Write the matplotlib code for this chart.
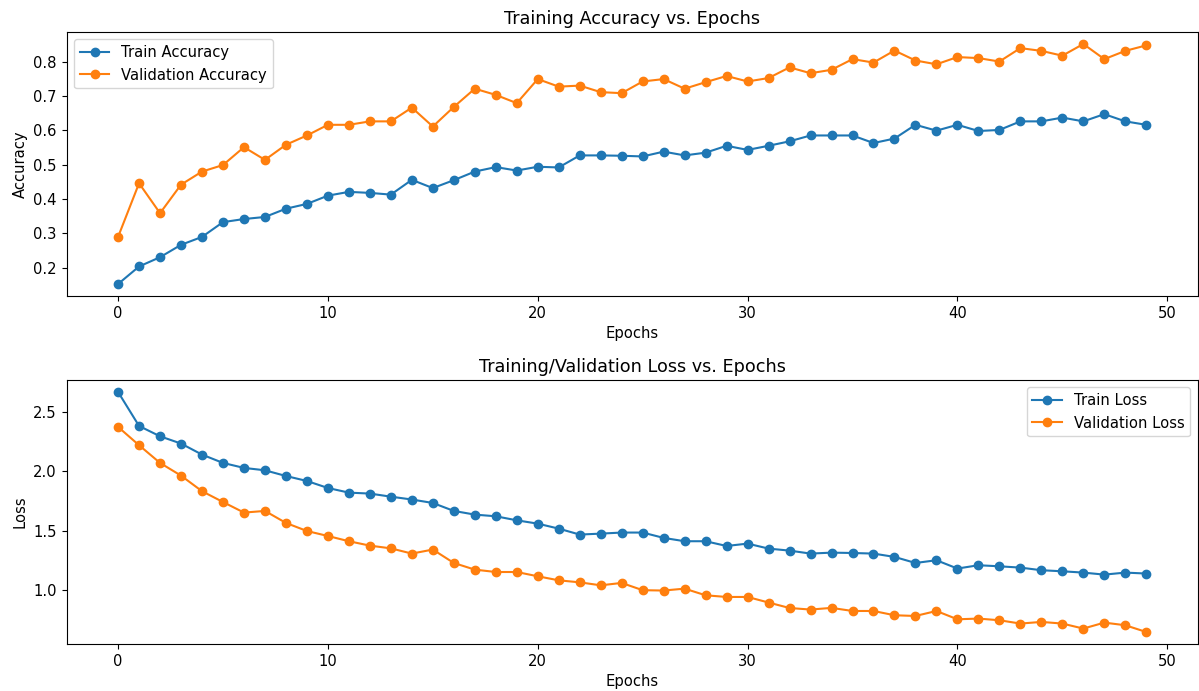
import matplotlib
matplotlib.use("Agg")
import matplotlib.pyplot as plt
from matplotlib.ticker import MultipleLocator

plt.rcParams['font.size'] = 10.6
plt.rcParams['axes.titlesize'] = 12.7

epochs = list(range(50))

train_acc = [0.153, 0.204, 0.231, 0.267, 0.290, 0.333, 0.342, 0.348, 0.372, 0.386,
             0.410, 0.421, 0.418, 0.413, 0.456, 0.432, 0.455, 0.480, 0.493, 0.483,
             0.494, 0.492, 0.527, 0.527, 0.526, 0.524, 0.538, 0.527, 0.535, 0.555,
             0.543, 0.555, 0.568, 0.585, 0.585, 0.585, 0.563, 0.576, 0.616, 0.599,
             0.616, 0.598, 0.601, 0.626, 0.626, 0.637, 0.626, 0.647, 0.626, 0.616]

val_acc = [0.290, 0.446, 0.359, 0.442, 0.480, 0.499, 0.551, 0.514, 0.558, 0.585,
           0.616, 0.616, 0.626, 0.626, 0.666, 0.611, 0.668, 0.721, 0.703, 0.679,
           0.749, 0.727, 0.730, 0.711, 0.708, 0.742, 0.749, 0.721, 0.740, 0.758,
           0.742, 0.752, 0.783, 0.766, 0.776, 0.807, 0.797, 0.832, 0.803, 0.792,
           0.813, 0.810, 0.800, 0.839, 0.831, 0.817, 0.851, 0.807, 0.831, 0.847]

train_loss = [2.668, 2.382, 2.295, 2.234, 2.141, 2.071, 2.029, 2.009, 1.961, 1.919,
              1.860, 1.821, 1.813, 1.787, 1.763, 1.734, 1.667, 1.636, 1.622, 1.588,
              1.560, 1.518, 1.468, 1.476, 1.485, 1.485, 1.440, 1.412, 1.412, 1.372,
              1.392, 1.350, 1.333, 1.308, 1.316, 1.313, 1.308, 1.280, 1.229, 1.252,
              1.182, 1.210, 1.201, 1.190, 1.168, 1.159, 1.148, 1.131, 1.148, 1.140]

val_loss = [2.374, 2.220, 2.071, 1.964, 1.833, 1.742, 1.653, 1.667, 1.566, 1.498,
            1.456, 1.412, 1.375, 1.352, 1.308, 1.342, 1.229, 1.173, 1.153, 1.153,
            1.117, 1.083, 1.066, 1.041, 1.061, 1.000, 0.997, 1.013, 0.957, 0.943,
            0.943, 0.896, 0.850, 0.837, 0.851, 0.825, 0.825, 0.789, 0.783, 0.825,
            0.755, 0.761, 0.747, 0.719, 0.733, 0.719, 0.677, 0.727, 0.705, 0.648]

fig = plt.figure(figsize=(11.99, 6.91), dpi=100)
ax1 = fig.add_axes([0.0556, 0.5716, 0.9433, 0.3821])
ax2 = fig.add_axes([0.0556, 0.068, 0.9433, 0.3821])

ax1.plot(epochs, train_acc, marker='o', label='Train Accuracy')
ax1.plot(epochs, val_acc, marker='o', label='Validation Accuracy')
ax1.set_title('Training Accuracy vs. Epochs')
ax1.set_xlabel('Epochs')
ax1.set_ylabel('Accuracy')
ax1.legend(loc='upper left')

ax2.plot(epochs, train_loss, marker='o', label='Train Loss')
ax2.plot(epochs, val_loss, marker='o', label='Validation Loss')
ax2.set_title('Training/Validation Loss vs. Epochs')
ax2.set_xlabel('Epochs')
ax2.set_ylabel('Loss')
ax2.yaxis.set_major_locator(MultipleLocator(0.5))
ax2.legend(loc='upper right')

fig.savefig('out.png', dpi=100)
